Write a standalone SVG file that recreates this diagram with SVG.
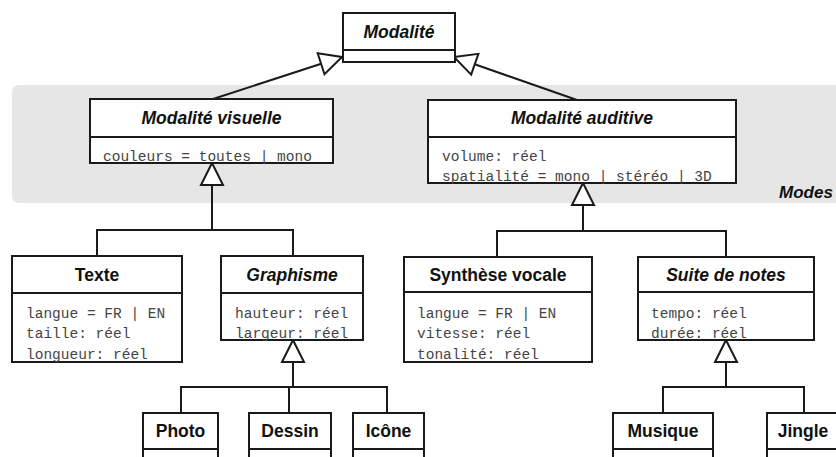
<svg xmlns="http://www.w3.org/2000/svg" width="836" height="457" viewBox="0 0 836 457">
<style>
.box{fill:#fff;stroke:#1a1a1a;stroke-width:2}
.div{stroke:#1a1a1a;stroke-width:2}
.t{font-family:"Liberation Sans",Arial,sans-serif;font-weight:bold;font-size:17.5px;fill:#111;text-anchor:middle}
.i{font-style:italic}
.a{font-family:"Liberation Mono","Courier New",monospace;font-size:14.5px;fill:#444}
.c{fill:none;stroke:#1a1a1a;stroke-width:2}
</style>
<defs>
<marker id="gen" markerUnits="userSpaceOnUse" markerWidth="24" markerHeight="24" viewBox="0 0 24 24" refX="23" refY="12" orient="auto" overflow="visible">
<path d="M1,1 L23,12 L1,23 Z" fill="#fff" stroke="#1a1a1a" stroke-width="2"/>
</marker>
</defs>
<rect x="12" y="85" width="834" height="118" rx="7" fill="#e6e6e6"/>
<text x="779" y="198" font-family="Liberation Sans,Arial,sans-serif" font-weight="bold" font-style="italic" font-size="17px" fill="#111">Modes</text>

<g id="connectors">
<path class="c" d="M213,99 L342,57" marker-end="url(#gen)"/>
<path class="c" d="M577,100 L454,57" marker-end="url(#gen)"/>
<path class="c" d="M97,256 V230 H293 V256"/>
<path class="c" d="M212,230 V163" marker-end="url(#gen)"/>
<path class="c" d="M497,257 V231 H726 V257"/>
<path class="c" d="M583,231 V183" marker-end="url(#gen)"/>
<path class="c" d="M181,413 V387 H387 V413 M289,387 V413"/>
<path class="c" d="M293,387 V340" marker-end="url(#gen)"/>
<path class="c" d="M663,413 V387 H804 V413"/>
<path class="c" d="M726,387 V340" marker-end="url(#gen)"/>
</g>

<g id="modalite">
<rect class="box" x="343" y="13" width="112" height="49"/>
<line class="div" x1="343" y1="50" x2="455" y2="50"/>
<text class="t i" x="399" y="38">Modalité</text>
</g>

<g id="modalite-visuelle">
<rect class="box" x="90" y="99" width="243" height="64"/>
<line class="div" x1="90" y1="137" x2="333" y2="137"/>
<text class="t i" x="211.5" y="124">Modalité visuelle</text>
<text class="a" x="103" y="161">couleurs = toutes | mono</text>
</g>

<g id="modalite-auditive">
<rect class="box" x="428" y="100" width="308" height="83"/>
<line class="div" x1="428" y1="137" x2="736" y2="137"/>
<text class="t i" x="582" y="124">Modalité auditive</text>
<text class="a" x="442" y="161">volume: réel</text>
<text class="a" x="442" y="181">spatialité = mono | stéréo | 3D</text>
</g>

<g id="texte">
<rect class="box" x="12" y="256" width="170" height="106"/>
<line class="div" x1="12" y1="293" x2="182" y2="293"/>
<text class="t" x="97" y="281">Texte</text>
<text class="a" x="26" y="318">langue = FR | EN</text>
<text class="a" x="26" y="338">taille: réel</text>
<text class="a" x="26" y="359">longueur: réel</text>
</g>

<g id="graphisme">
<rect class="box" x="221" y="256" width="142" height="84"/>
<line class="div" x1="221" y1="293" x2="363" y2="293"/>
<text class="t i" x="292" y="281">Graphisme</text>
<text class="a" x="235" y="318">hauteur: réel</text>
<text class="a" x="235" y="338">largeur: réel</text>
</g>

<g id="synthese-vocale">
<rect class="box" x="404" y="257" width="188" height="105"/>
<line class="div" x1="404" y1="292" x2="592" y2="292"/>
<text class="t" x="498" y="281">Synthèse vocale</text>
<text class="a" x="417" y="318">langue = FR | EN</text>
<text class="a" x="417" y="338">vitesse: réel</text>
<text class="a" x="417" y="359">tonalité: réel</text>
</g>

<g id="suite-de-notes">
<rect class="box" x="638" y="257" width="176" height="83"/>
<line class="div" x1="638" y1="292" x2="814" y2="292"/>
<text class="t i" x="726" y="281">Suite de notes</text>
<text class="a" x="651" y="318">tempo: réel</text>
<text class="a" x="651" y="338">durée: réel</text>
</g>

<g id="photo">
<rect class="box" x="143" y="413" width="75" height="60"/>
<line class="div" x1="143" y1="449" x2="218" y2="449"/>
<text class="t" x="180.5" y="437">Photo</text>
</g>

<g id="dessin">
<rect class="box" x="249" y="413" width="82" height="60"/>
<line class="div" x1="249" y1="449" x2="331" y2="449"/>
<text class="t" x="290" y="437">Dessin</text>
</g>

<g id="icone">
<rect class="box" x="353" y="413" width="71" height="60"/>
<line class="div" x1="353" y1="449" x2="424" y2="449"/>
<text class="t" x="388.5" y="437">Icône</text>
</g>

<g id="musique">
<rect class="box" x="613" y="413" width="100" height="60"/>
<line class="div" x1="613" y1="449" x2="713" y2="449"/>
<text class="t" x="663" y="437">Musique</text>
</g>

<g id="jingle">
<rect class="box" x="767" y="413" width="74" height="60"/>
<line class="div" x1="767" y1="449" x2="841" y2="449"/>
<text class="t" x="803" y="437">Jingle</text>
</g>
</svg>
